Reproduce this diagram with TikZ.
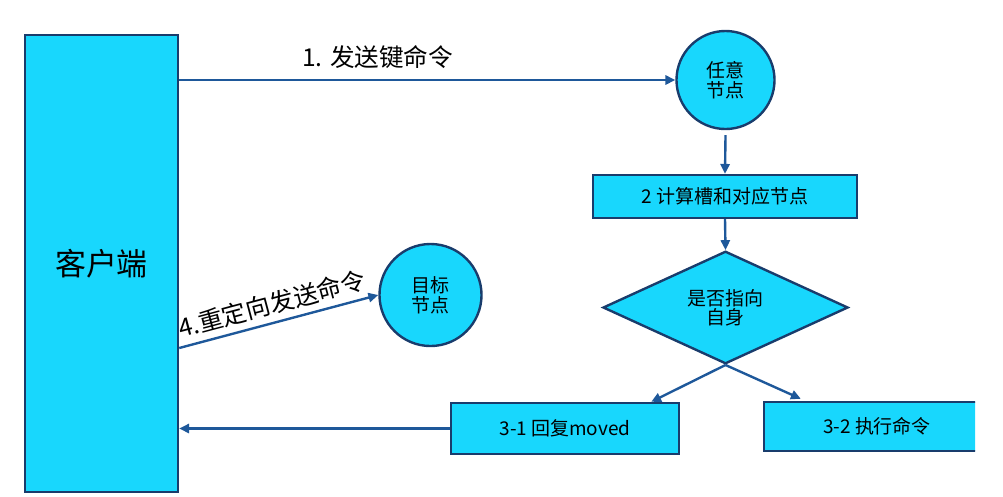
\documentclass[tikz,border=0pt]{standalone}
\usepackage{fontspec}
\setmainfont{Noto Sans CJK SC}
\usepackage{tikz}
\usetikzlibrary{arrows.meta}
\usetikzlibrary{calc}
\usetikzlibrary{shapes}

\definecolor{boxfill}{RGB}{24,215,253}
\definecolor{boxline}{RGB}{25,60,108}
\definecolor{arrowline}{RGB}{30,88,154}

\begin{document}
\begin{tikzpicture}[x=0.025cm, y=-0.025cm, line width=1.7pt,
        box_style/.style={rectangle,draw=boxline,fill=boxfill,inner sep=0pt,font=\fontsize{13.5pt}{16pt}\selectfont},
        node_style/.style={circle,draw=boxline,fill=boxfill,inner sep=0pt,align=center,font=\fontsize{13.5pt}{14pt}\selectfont},
        check_style/.style={diamond,draw=boxline,fill=boxfill,inner sep=0pt,minimum width=6.125cm,minimum height=1.925cm,align=center,font=\fontsize{13.5pt}{13.5pt}\selectfont},
        edge_style/.style={draw=arrowline, line width=1.7pt,-{Triangle[length=7pt,width=6.5pt]}},
        label_style/.style={font=\fontsize{17.5pt}{20pt}\selectfont,text=black}]

        \useasboundingbox (0,0) rectangle (1003,496);

        \node [box_style,minimum width=3.825cm,minimum height=11.425cm,font=\fontsize{22pt}{26pt}\selectfont](client) at (101.5,263.5) {客户端};

        \node [node_style,minimum size=2.45cm](any) at (725.5,80) {任意\\节点};

        \node [box_style,minimum width=6.6cm,minimum height=1.075cm](slot) at (725,196.5) {2 计算槽和对应节点};

        \node [check_style](self) at (725.5,307.5) {是否指向\\自身};

        \node [box_style,minimum width=5.7cm,minimum height=1.275cm](moved) at (565,428.5) {3-1 回复moved};

        \begin{scope}
        \clip (0,0) rectangle (975,496);
        \node [box_style,minimum width=5.65cm,minimum height=1.225cm](exec) at (877,426.5) {3-2 执行命令};
        \end{scope}

        \node [node_style,minimum size=2.55cm](target) at (430.5,295) {目标\\节点};

        \coordinate (redir) at (client.east |- 0,348);

        \draw [edge_style] (client.east |- any.west) -- node[pos=0.4,above=4pt,label_style]{1. 发送键命令} (any.west);

        \draw [edge_style] ($(any.south)+(0,5)$) -- (slot.north);

        \draw [edge_style] (slot.south) -- (self.north);

        \draw [edge_style] (self.south) -- ($(moved.north east)+(-29,0)$);

        \draw [edge_style] (self.south) -- ($(exec.north west)+(38,-2)$);

        \draw [edge_style] (moved.west) -- (moved.west -| client.east);

        \draw [edge_style] (redir) -- node[pos=0.49,sloped,above=1pt,label_style]{4.重定向发送命令} (target.west);

        \end{tikzpicture}
\end{document}
